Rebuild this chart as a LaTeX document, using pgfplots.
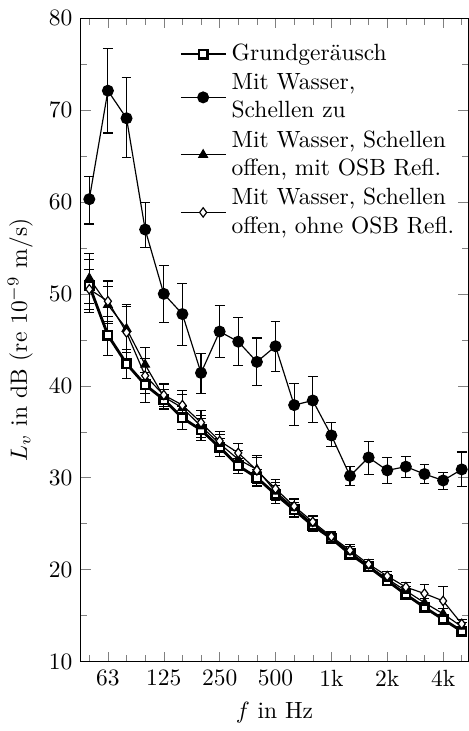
\documentclass[border=0pt]{standalone}
\usepackage{pgfplots}
\usepackage{pgfplotstable}
\pgfplotsset{compat=1.18}
\pgfplotstableread{
f L ep em
50 50.9 2.8 2.9
63 45.5 2.0 2.2
80 42.4 1.5 1.6
100 40.1 1.3 1.9
125 38.5 1.1 1.1
160 36.5 1.3 1.3
200 35.2 1.2 1.2
250 33.3 1.0 1.0
315 31.3 0.8 0.8
400 30.0 0.9 0.9
500 28.2 1.0 1.0
630 26.5 0.8 0.8
800 24.8 0.7 0.7
1000 23.4 0.6 0.6
1250 21.7 0.6 0.6
1600 20.3 0.5 0.5
2000 18.8 0.5 0.5
2500 17.3 0.5 0.5
3150 15.9 0.4 0.4
4000 14.6 0.4 0.4
5000 13.3 0.4 0.4
}\grund
\pgfplotstableread{
f L ep em
50 60.3 2.5 2.7
63 72.1 4.6 4.6
80 69.1 4.4 4.3
100 57.0 2.9 2.0
125 50.0 3.1 3.1
160 47.8 3.3 3.4
200 41.4 2.1 2.2
250 45.9 2.8 2.8
315 44.8 2.6 2.6
400 42.6 2.6 2.6
500 44.3 2.7 2.7
630 37.9 2.3 2.2
800 38.4 2.6 2.4
1000 34.6 1.4 1.2
1250 30.2 1.0 1.0
1600 32.2 1.7 1.8
2000 30.8 1.4 1.4
2500 31.2 1.1 1.2
3150 30.4 1.0 1.0
4000 29.7 0.9 1.0
5000 30.9 1.9 1.9
}\zu
\pgfplotstableread{
f L ep em
50 51.7 2.7 2.7
63 48.8 2.0 2.0
80 46.2 2.6 2.6
100 42.3 1.9 1.9
125 38.8 1.3 1.3
160 37.6 1.5 1.5
200 35.6 1.2 1.2
250 33.7 1.0 1.0
315 32.0 1.0 1.0
400 30.9 1.5 1.5
500 28.5 1.0 1.0
630 26.7 0.9 0.9
800 25.0 0.8 0.8
1000 23.5 0.6 0.6
1250 21.9 0.6 0.6
1600 20.4 0.5 0.5
2000 19.0 0.5 0.5
2500 17.7 0.5 0.5
3150 16.4 0.5 0.5
4000 15.2 0.6 0.6
5000 13.8 0.4 0.4
}\mitosb
\pgfplotstableread{
f L ep em
50 50.5 2.2 2.2
63 49.2 2.2 2.2
80 45.8 2.8 2.8
100 41.1 1.9 1.9
125 39.0 1.3 1.3
160 37.9 1.6 1.6
200 36.0 1.3 1.3
250 34.0 1.0 1.0
315 32.7 1.0 1.0
400 30.8 1.4 1.4
500 28.8 1.0 1.0
630 26.9 0.8 0.8
800 25.2 0.7 0.7
1000 23.6 0.6 0.6
1250 22.1 0.6 0.6
1600 20.6 0.5 0.5
2000 19.3 0.5 0.5
2500 18.1 0.5 0.5
3150 17.4 1.0 1.0
4000 16.6 1.6 1.6
5000 14.1 0.5 0.5
}\ohneosb
\begin{document}
\begin{tikzpicture}
\begin{axis}[
  name=ax,
  scale only axis,
  width=165pt, height=274pt,
  xmin=-0.46, xmax=20.35,
  ymin=10, ymax=80,
  xtick={1,4,7,10,13,16,19},
  xticklabels={63,125,250,500,1k,2k,4k},
  minor xtick={0,2,3,5,6,8,9,11,12,14,15,17,18,20},
  ytick={10,20,30,40,50,60,70,80},
  minor ytick={15,25,35,45,55,65,75},
  xlabel={$f$ in Hz},
  ylabel={$L_v$ in dB (re $10^{-9}$ m/s)},
  legend style={at={(0.995,0.975)}, anchor=north east, draw=none, fill=none,
    cells={align=left, anchor=west}},
  legend cell align=left,
  legend image code/.code={\draw[mark repeat=2,mark phase=2] plot coordinates {(0cm,0cm) (0.335cm,0cm) (0.67cm,0cm)};},
  error bars/error bar style={line width=0.45pt, black},
  error bars/error mark options={rotate=90, mark size=2.1pt, line width=0.45pt, black},
]
\addplot[black, line width=1.2pt, mark=square*, mark size=1.8pt, mark options={fill=white, line width=1.1pt},
  error bars/.cd, y dir=both, y explicit]
  table[x expr=\coordindex, y=L, y error plus=ep, y error minus=em] {\grund};
\addlegendentry{Grundgeräusch}
\addplot[black, line width=0.5pt, mark=*, mark size=2.3pt,
  error bars/.cd, y dir=both, y explicit]
  table[x expr=\coordindex, y=L, y error plus=ep, y error minus=em] {\zu};
\addlegendentry{Mit Wasser,\\Schellen zu}
\addplot[black, line width=0.5pt, mark=triangle*, mark size=2.1pt,
  error bars/.cd, y dir=both, y explicit]
  table[x expr=\coordindex, y=L, y error plus=ep, y error minus=em] {\mitosb};
\addlegendentry{Mit Wasser, Schellen\\offen, mit OSB Refl.}
\addplot[black, line width=0.5pt, mark=diamond*, mark size=2.0pt, mark options={fill=white, line width=0.5pt},
  error bars/.cd, y dir=both, y explicit]
  table[x expr=\coordindex, y=L, y error plus=ep, y error minus=em] {\ohneosb};
\addlegendentry{Mit Wasser, Schellen\\offen, ohne OSB Refl.}
\end{axis}
\path (ax.north) ++(0,7.7pt);
\end{tikzpicture}
\end{document}
